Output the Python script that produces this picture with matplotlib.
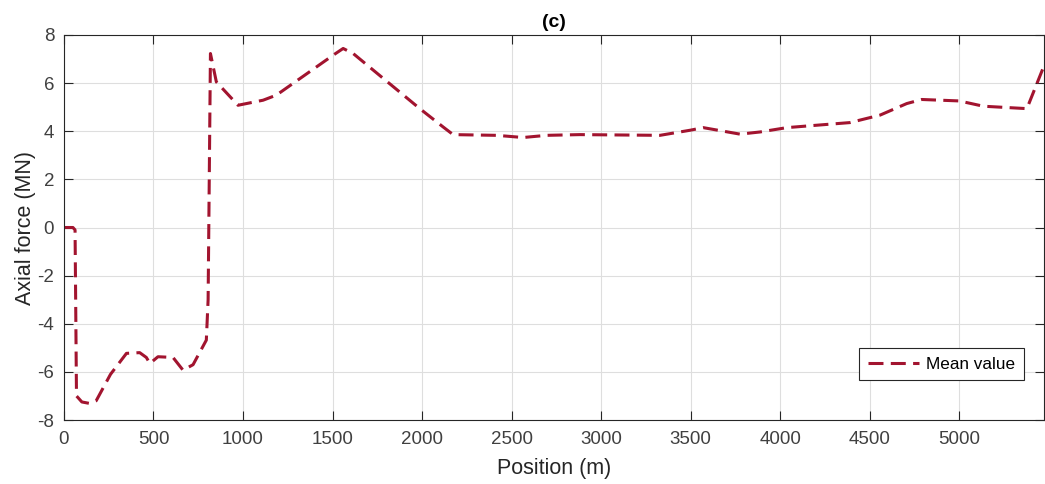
import matplotlib.pyplot as plt

plt.rcParams['font.family'] = ['Liberation Sans', 'DejaVu Sans']
plt.rcParams['axes.unicode_minus'] = False

# mean axial force along the line
position = [0, 50, 62, 70, 100, 143, 180, 260, 349, 423, 460, 480, 525, 609, 665, 721,
            795, 805, 818, 851, 972, 1112, 1186, 1503, 1559, 1615, 1987, 2117, 2173,
            2416, 2564, 2695, 2881, 3328, 3495, 3570, 3775, 3887, 4036, 4203, 4389,
            4557, 4706, 4790, 4999, 5134, 5377, 5470]
axial_force = [0, 0, -0.1, -7.0, -7.25, -7.31, -7.2, -6.1, -5.23, -5.2, -5.4, -5.65, -5.37,
               -5.4, -5.93, -5.7, -4.68, -3.0, 7.23, 6.05, 5.08, 5.29, 5.5, 7.16, 7.44,
               7.23, 4.94, 4.18, 3.86, 3.83, 3.74, 3.83, 3.86, 3.83, 4.04, 4.15, 3.88,
               3.97, 4.15, 4.25, 4.36, 4.67, 5.15, 5.32, 5.26, 5.04, 4.94, 6.67]

fig = plt.figure(figsize=(10.45, 4.84), dpi=100)
ax = fig.add_axes([0.0612, 0.1322, 0.9374, 0.7955])

ax.plot(position, axial_force, '--', color='#A2142F', lw=2.2, dashes=(4.9, 2.4),
        label='Mean value')

ax.set_xlim(0, 5470)
ax.set_ylim(-8, 8)
ax.set_xticks(range(0, 5001, 500))
ax.set_yticks(range(-8, 9, 2))
ax.grid(True, color='#dedede', lw=0.8)
ax.tick_params(direction='in', top=True, right=True, labelsize=13.5, colors='#262626',
               labelcolor='#404040', length=6.5)
ax.tick_params(axis='x', pad=8)
ax.tick_params(axis='y', pad=7)
for s in ax.spines.values():
    s.set_color('#262626')
    s.set_linewidth(0.8)

ax.set_xlabel('Position (m)', fontsize=15.5, color='#262626', labelpad=7)
ax.set_ylabel('Axial force (MN)', fontsize=15.5, color='#262626', labelpad=1)
ax.set_title('(c)', fontsize=14, fontweight='bold', pad=6)

leg = ax.legend(loc='lower right', bbox_to_anchor=(0.9796, 0.1036), fontsize=12.3,
                fancybox=False, framealpha=1, edgecolor='#262626', handlelength=3.0,
                borderpad=0.5, handletextpad=0.4, borderaxespad=0)
leg.get_frame().set_linewidth(0.8)

fig.savefig('out.png', dpi=100)
